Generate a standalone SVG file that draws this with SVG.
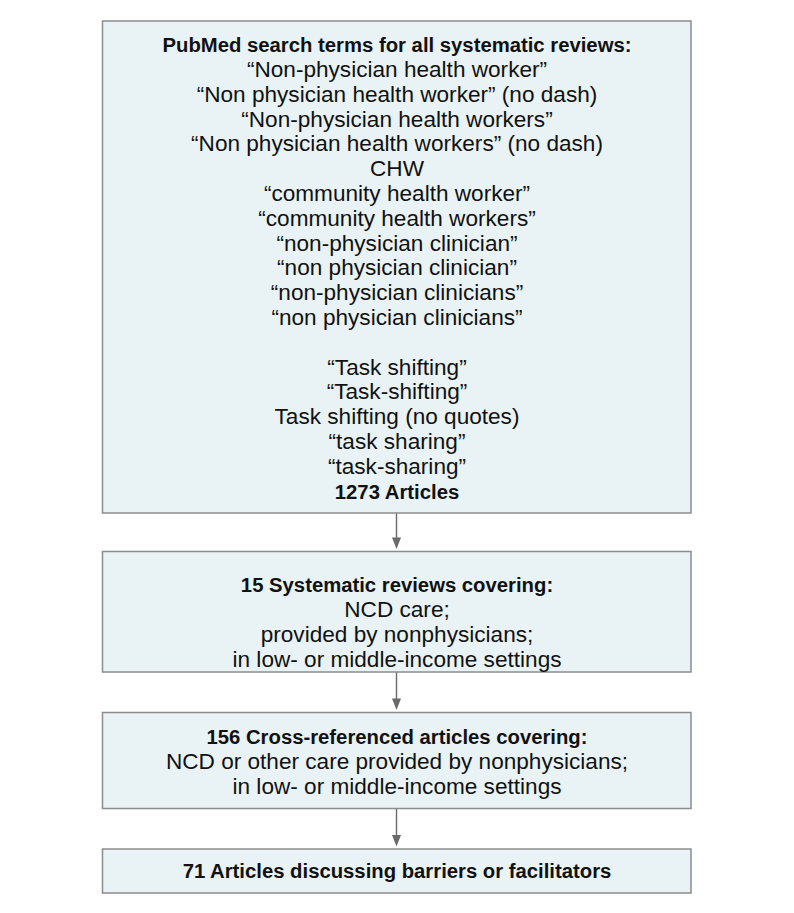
<svg xmlns="http://www.w3.org/2000/svg" width="794" height="913" viewBox="0 0 794 913">
<style>
.box{fill:#e9f3f5;stroke:#8c8c8c;stroke-width:1.5}
text{font-family:"Liberation Sans",Arial,sans-serif;font-size:22.6px;fill:#111;text-anchor:middle}
.b{font-weight:bold;font-size:20.3px}
.conn{stroke:#6a6a6a;stroke-width:1.4;fill:none}
.head{fill:#6a6a6a}
</style>
<rect width="794" height="913" fill="#fff"/>
<g id="node-search">
<rect class="box" x="102.5" y="21" width="588.5" height="492"/>
<text class="b" x="397" y="52">PubMed search terms for all systematic reviews:</text>
<text x="397" y="77">“Non-physician health worker”</text>
<text x="397" y="101.8">“Non physician health worker” (no dash)</text>
<text x="397" y="126.6">“Non-physician health workers”</text>
<text x="397" y="151.4">“Non physician health workers” (no dash)</text>
<text x="397" y="176.2">CHW</text>
<text x="397" y="201">“community health worker”</text>
<text x="397" y="225.8">“community health workers”</text>
<text x="397" y="250.6">“non-physician clinician”</text>
<text x="397" y="275.4">“non physician clinician”</text>
<text x="397" y="300.2">“non-physician clinicians”</text>
<text x="397" y="325">“non physician clinicians”</text>
<text x="397" y="374.6">“Task shifting”</text>
<text x="397" y="399.4">“Task-shifting”</text>
<text x="397" y="424.2">Task shifting (no quotes)</text>
<text x="397" y="449">“task sharing”</text>
<text x="397" y="473.8">“task-sharing”</text>
<text class="b" x="397" y="498.6">1273 Articles</text>
</g>
<g id="node-reviews">
<rect class="box" x="102.5" y="551.5" width="588.5" height="120.5"/>
<text class="b" x="397" y="592">15 Systematic reviews covering:</text>
<text x="397" y="617">NCD care;</text>
<text x="397" y="642">provided by nonphysicians;</text>
<text x="397" y="667">in low- or middle-income settings</text>
</g>
<g id="node-cross">
<rect class="box" x="102.5" y="712.5" width="588.5" height="96"/>
<text class="b" x="397" y="744">156 Cross-referenced articles covering:</text>
<text x="397" y="769">NCD or other care provided by nonphysicians;</text>
<text x="397" y="794">in low- or middle-income settings</text>
</g>
<g id="node-final">
<rect class="box" x="102.5" y="849" width="588.5" height="44"/>
<text class="b" x="397" y="878">71 Articles discussing barriers or facilitators</text>
</g>
<g id="connectors">
<line class="conn" x1="396.5" y1="513.5" x2="396.5" y2="539"/>
<path class="head" d="M392,537.5 L401,537.5 L396.5,549 Z"/>
<line class="conn" x1="396.5" y1="672.5" x2="396.5" y2="700"/>
<path class="head" d="M392,698.5 L401,698.5 L396.5,710 Z"/>
<line class="conn" x1="396.5" y1="809" x2="396.5" y2="836"/>
<path class="head" d="M392,835 L401,835 L396.5,846.5 Z"/>
</g>
</svg>
